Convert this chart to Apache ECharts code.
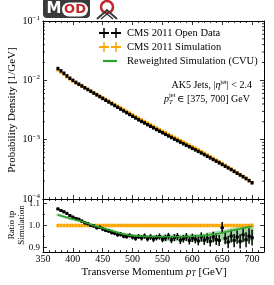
<!DOCTYPE html>
<html><head><meta charset="utf-8">
<script src="https://cdn.jsdelivr.net/npm/echarts@6/dist/echarts.min.js"></script>
<style>html,body{margin:0;padding:0;background:#fff}#c{width:274px;height:285px}</style>
</head><body><div id="c"></div>
<script>
// ---- data ----
const pt = [375,380,385,390,395,400,405,410,415,420,425,430,435,440,445,450,455,460,465,470,475,480,485,490,495,500,505,510,515,520,525,530,535,540,545,550,555,560,565,570,575,580,585,590,595,600,605,610,615,620,625,630,635,640,645,650,655,660,665,670,675,680,685,690,695,700];
const dataMain = [0.0158,0.01445,0.01318,0.01189,0.01084,0.0100,0.00923,0.00861,0.00804,0.00750,0.00700,0.00653,0.00610,0.00569,0.00531,0.00495,0.00462,0.00432,0.00403,0.00376,0.00351,0.00327,0.00305,0.00285,0.00266,0.00248,0.00232,0.00216,0.00203,0.00191,0.00179,0.00168,0.00158,0.00148,0.00139,0.00131,0.00123,0.001156,0.001089,0.001023,0.000964,0.000908,0.000855,0.000805,0.000759,0.000714,0.000673,0.000634,0.000596,0.00056,0.000525,0.000493,0.000462,0.000434,0.000407,0.000382,0.000357,0.000334,0.000313,0.000292,0.000272,0.000254,0.000237,0.000221,0.000204,0.000188];
const simMain = [0.01507,0.01383,0.01268,0.01149,0.01054,0.00979,0.00908,0.00853,0.00800,0.00750,0.00705,0.00661,0.00619,0.00580,0.00543,0.00509,0.00477,0.00447,0.00418,0.00392,0.00366,0.00343,0.00321,0.00300,0.00281,0.00262,0.00245,0.00229,0.00215,0.00202,0.00190,0.00178,0.00168,0.00157,0.00148,0.00139,0.00131,0.00123,0.001159,0.001089,0.001026,0.000966,0.000910,0.000857,0.000806,0.000759,0.000714,0.000671,0.000630,0.000590,0.000552,0.000517,0.000483,0.000453,0.000423,0.000395,0.000368,0.000344,0.000320,0.000298,0.000277,0.000258,0.000240,0.000223,0.000205,0.000188];
const ratioData = [1.075,1.068,1.062,1.055,1.045,1.038,1.032,1.028,1.02,1.012,1.008,1.0,0.998,0.99,0.992,0.984,0.978,0.975,0.968,0.965,0.958,0.96,0.952,0.95,0.955,0.948,0.942,0.95,0.944,0.952,0.94,0.948,0.938,0.945,0.95,0.938,0.944,0.952,0.935,0.945,0.95,0.933,0.94,0.948,0.932,0.944,0.938,0.93,0.948,0.933,0.942,0.928,0.948,0.936,0.932,0.99,0.942,0.925,0.952,0.932,0.948,0.928,0.958,0.936,0.952,0.945];
const ratioErr = [0.006,0.006,0.006,0.006,0.006,0.006,0.007,0.007,0.007,0.007,0.007,0.007,0.008,0.008,0.008,0.008,0.008,0.009,0.009,0.009,0.009,0.01,0.01,0.01,0.01,0.011,0.011,0.011,0.012,0.012,0.012,0.013,0.013,0.013,0.014,0.014,0.015,0.015,0.015,0.016,0.016,0.017,0.017,0.018,0.018,0.019,0.019,0.02,0.021,0.021,0.022,0.023,0.024,0.024,0.025,0.026,0.027,0.028,0.029,0.03,0.031,0.032,0.033,0.034,0.035,0.036];
const ratioRew = [1.048,1.044,1.04,1.036,1.032,1.029,1.025,1.022,1.018,1.014,1.01,1.005,1.0,0.996,0.992,0.988,0.984,0.98,0.976,0.972,0.968,0.964,0.961,0.958,0.956,0.954,0.953,0.952,0.951,0.951,0.95,0.95,0.95,0.95,0.949,0.949,0.949,0.949,0.949,0.949,0.949,0.949,0.949,0.95,0.95,0.951,0.951,0.952,0.953,0.954,0.956,0.958,0.96,0.962,0.964,0.967,0.97,0.973,0.976,0.979,0.982,0.985,0.988,0.991,0.994,0.997];
const rewErrUp = [0.006,0.006,0.006,0.006,0.006,0.006,0.006,0.006,0.006,0.006,0.006,0.006,0.006,0.006,0.006,0.007,0.007,0.007,0.007,0.007,0.007,0.007,0.007,0.007,0.007,0.007,0.007,0.007,0.007,0.007,0.007,0.007,0.007,0.007,0.007,0.01,0.01,0.01,0.01,0.01,0.01,0.01,0.01,0.01,0.01,0.01,0.01,0.01,0.01,0.01,0.012,0.012,0.012,0.012,0.012,0.012,0.012,0.012,0.012,0.012,0.012,0.012,0.012,0.012,0.012,0.012];
const rewErrDown = [0.006,0.006,0.006,0.006,0.006,0.006,0.006,0.006,0.006,0.006,0.006,0.006,0.006,0.006,0.006,0.008,0.008,0.008,0.008,0.008,0.008,0.008,0.008,0.008,0.008,0.012,0.012,0.012,0.012,0.012,0.012,0.012,0.012,0.012,0.012,0.02,0.02,0.02,0.02,0.02,0.02,0.02,0.02,0.02,0.02,0.025,0.025,0.025,0.025,0.025,0.025,0.035,0.035,0.035,0.035,0.035,0.05,0.05,0.05,0.05,0.05,0.065,0.065,0.065,0.065,0.065];
const logMinorTicks = [2e-4,3e-4,4e-4,5e-4,6e-4,7e-4,8e-4,9e-4,2e-3,3e-3,4e-3,5e-3,6e-3,7e-3,8e-3,9e-3,2e-2,3e-2,4e-2,5e-2,6e-2,7e-2,8e-2,9e-2];
const ratioTicks = [0.9, 1.0, 1.1];
const ratioMinorTicks = [0.95, 1.05];
const legendLabels = ['CMS 2011 Open Data', 'CMS 2011 Simulation', 'Reweighted Simulation (CVU)'];
const binHalf = 2.5;

// ---- styles ----
const F = "'Liberation Serif','DejaVu Serif',serif";
const BLACK = '#000000', ORANGE = '#ffa500', GREEN = '#2ca02c';

// tables for the library
const mainDataRows = pt.map((x, i) => [x, dataMain[i], dataMain[i] * (1 - ratioErr[i]), dataMain[i] * (1 + ratioErr[i])]);
const mainSimRows = pt.map((x, i) => [x, simMain[i], simMain[i], simMain[i]]);
const ratioDataRows = pt.map((x, i) => [x, ratioData[i], ratioData[i] - ratioErr[i], ratioData[i] + ratioErr[i]]);
const ratioSimRows = pt.map((x, i) => [x, simMain[i] / simMain[i], 0.996, 1.004]);
const bandRows = pt.map((x, i) => [x, ratioRew[i] - rewErrDown[i], ratioRew[i] + rewErrUp[i]]);
const rewRows = pt.map((x, i) => [x, ratioRew[i]]);

function errBars(color, hLW, vLW, marker) {
  return function (params, api) {
    const x = api.value(0), y = api.value(1), lo = api.value(2), hi = api.value(3);
    const a = api.coord([x - binHalf, y]), b = api.coord([x + binHalf, y]);
    const c = api.coord([x, lo]), d = api.coord([x, hi]);
    const ch = [
      {type: 'line', shape: {x1: a[0], y1: a[1], x2: b[0], y2: b[1]}, style: {stroke: color, lineWidth: hLW}},
      {type: 'line', shape: {x1: c[0], y1: c[1], x2: d[0], y2: d[1]}, style: {stroke: color, lineWidth: vLW}}
    ];
    if (marker) {
      const m = api.coord([x, y]);
      ch.push({type: 'rect', shape: {x: m[0] - marker / 2, y: m[1] - marker / 2, width: marker, height: marker}, style: {fill: color}});
    }
    return {type: 'group', children: ch};
  };
}
function bandRender(params, api) {
  const x = api.value(0), lo = api.value(1), hi = api.value(2);
  const a = api.coord([x - binHalf, hi]), b = api.coord([x + binHalf, lo]);
  return {type: 'rect', shape: {x: a[0], y: a[1], width: b[0] - a[0], height: b[1] - a[1]}, style: {fill: 'rgba(44,160,44,0.45)'}};
}
function minorTickRender(len) {
  return function (params, api) {
    const cs = params.coordSys;
    const y = api.coord([500, api.value(0)])[1];
    return {type: 'group', children: [
      {type: 'line', shape: {x1: cs.x, y1: y, x2: cs.x + len, y2: y}, style: {stroke: BLACK, lineWidth: 0.8}},
      {type: 'line', shape: {x1: cs.x + cs.width, y1: y, x2: cs.x + cs.width - len, y2: y}, style: {stroke: BLACK, lineWidth: 0.8}}
    ]};
  };
}

const axLine = {show: true, lineStyle: {color: BLACK, width: 1}};
function xAx(grid, pos, labels) {
  return {
    type: 'value', gridIndex: grid, position: pos, min: 350, max: 720, interval: 50,
    axisLine: axLine, splitLine: {show: false},
    axisTick: {show: true, inside: true, length: 4, lineStyle: {color: BLACK, width: 0.8}},
    minorTick: {show: true, splitNumber: 5, length: 2, lineStyle: {color: BLACK, width: 0.8}},
    axisLabel: labels ? {show: true, fontFamily: F, fontSize: 10, color: BLACK, margin: 2} : {show: false}
  };
}
function yLog(pos, labels) {
  return {
    type: 'log', logBase: 10, gridIndex: 0, position: pos, min: 1e-4, max: 1e-1,
    axisLine: axLine, splitLine: {show: false},
    axisTick: {show: true, inside: true, length: 4, lineStyle: {color: BLACK, width: 0.8}},
    minorTick: {show: false},
    axisLabel: labels ? {
      show: true, margin: 3,
      formatter: v => { const e = Math.round(Math.log10(v)); return '{b|10}{s|\u2212' + (-e) + '}'; },
      rich: {b: {fontFamily: F, fontSize: 10, color: BLACK}, s: {fontFamily: F, fontSize: 7, color: BLACK, padding: [0, 0, 6, 0]}}
    } : {show: false}
  };
}
function yRatio(pos, labels) {
  return {
    type: 'value', gridIndex: 1, position: pos, min: 0.88, max: 1.12,
    axisLine: axLine, splitLine: {show: false},
    axisTick: {show: true, inside: true, length: 4, customValues: ratioTicks, lineStyle: {color: BLACK, width: 0.8}},
    axisLabel: labels ? {show: true, customValues: ratioTicks, formatter: v => v.toFixed(1), fontFamily: F, fontSize: 9, color: BLACK, margin: 3} : {show: false}
  };
}

const chart = echarts.init(document.getElementById('c'), null, {renderer: 'canvas'});
const option = {
  animation: false,
  backgroundColor: '#fff',
  grid: [
    {left: 43, top: 21, width: 221, height: 178},
    {left: 43, top: 199, width: 221, height: 53}
  ],
  xAxis: [xAx(0, 'bottom', false), xAx(0, 'top', false), xAx(1, 'bottom', true), xAx(1, 'top', false)],
  yAxis: [yLog('left', true), yLog('right', false), yRatio('left', true), yRatio('right', false)],
  series: [
    {type: 'custom', xAxisIndex: 0, yAxisIndex: 0, data: mainSimRows, renderItem: errBars(ORANGE, 3.5, 1.5, 0), z: 2},
    {type: 'custom', xAxisIndex: 0, yAxisIndex: 0, data: mainDataRows, renderItem: errBars(BLACK, 3.5, 2, 0), z: 3},
    {type: 'custom', xAxisIndex: 0, yAxisIndex: 0, data: logMinorTicks.map(v => [v]), renderItem: minorTickRender(2), z: 5},
    {type: 'custom', xAxisIndex: 2, yAxisIndex: 2, data: bandRows, renderItem: bandRender, z: 1},
    {type: 'custom', xAxisIndex: 2, yAxisIndex: 2, data: ratioSimRows, renderItem: errBars(ORANGE, 3.5, 1, 0), z: 2},
    {type: 'custom', xAxisIndex: 2, yAxisIndex: 2, data: ratioDataRows, renderItem: errBars(BLACK, 1.5, 1.5, 3), z: 3},
    {type: 'line', xAxisIndex: 2, yAxisIndex: 2, data: rewRows, showSymbol: false, lineStyle: {color: GREEN, width: 1.6}, z: 4},
    {type: 'custom', xAxisIndex: 2, yAxisIndex: 2, data: ratioMinorTicks.map(v => [v]), renderItem: minorTickRender(2), z: 5}
  ],
  graphic: [
    // MOD logo
    {type: 'rect', shape: {x: 43, y: -4, width: 47, height: 22, r: 4}, style: {fill: '#3a3a3a'}},
    {type: 'text', x: 54, y: 9.5, style: {text: 'M', fontFamily: "'DejaVu Sans',sans-serif", fontWeight: 'bold', fontSize: 15, fill: '#fff', align: 'center', verticalAlign: 'middle'}},
    {type: 'rect', shape: {x: 62, y: 2.5, width: 26, height: 14, r: 7}, style: {fill: '#fff'}},
    {type: 'text', x: 75, y: 10, style: {text: 'OD', fontFamily: "'DejaVu Sans',sans-serif", fontWeight: 'bold', fontSize: 13, fill: '#c0282d', align: 'center', verticalAlign: 'middle'}},
    {type: 'circle', shape: {cx: 107, cy: 7, r: 6}, style: {fill: 'none', stroke: '#c0282d', lineWidth: 2.5}},
    {type: 'polyline', shape: {points: [[97, 19], [107, 10], [117, 19]]}, style: {fill: 'none', stroke: '#3a3a3a', lineWidth: 2}},
    {type: 'polyline', shape: {points: [[101, 19], [107, 14], [113, 19]]}, style: {fill: 'none', stroke: '#3a3a3a', lineWidth: 1.5}},
    // legend
    {type: 'line', shape: {x1: 99, y1: 33, x2: 109, y2: 33}, style: {stroke: BLACK, lineWidth: 2}},
    {type: 'line', shape: {x1: 104, y1: 28, x2: 104, y2: 38}, style: {stroke: BLACK, lineWidth: 1.5}},
    {type: 'line', shape: {x1: 111, y1: 33, x2: 121, y2: 33}, style: {stroke: BLACK, lineWidth: 2}},
    {type: 'line', shape: {x1: 116, y1: 28, x2: 116, y2: 38}, style: {stroke: BLACK, lineWidth: 1.5}},
    {type: 'line', shape: {x1: 99, y1: 47, x2: 109, y2: 47}, style: {stroke: ORANGE, lineWidth: 2}},
    {type: 'line', shape: {x1: 104, y1: 42, x2: 104, y2: 52}, style: {stroke: ORANGE, lineWidth: 1.5}},
    {type: 'line', shape: {x1: 111, y1: 47, x2: 121, y2: 47}, style: {stroke: ORANGE, lineWidth: 2}},
    {type: 'line', shape: {x1: 116, y1: 42, x2: 116, y2: 52}, style: {stroke: ORANGE, lineWidth: 1.5}},
    {type: 'line', shape: {x1: 103, y1: 61, x2: 117, y2: 61}, style: {stroke: GREEN, lineWidth: 2.2}},
    {type: 'text', x: 127, y: 33, style: {text: legendLabels[0], fontFamily: F, fontSize: 10.5, fill: BLACK, verticalAlign: 'middle'}},
    {type: 'text', x: 127, y: 47, style: {text: legendLabels[1], fontFamily: F, fontSize: 10.5, fill: BLACK, verticalAlign: 'middle'}},
    {type: 'text', x: 127, y: 61, style: {text: legendLabels[2], fontFamily: F, fontSize: 10.5, fill: BLACK, verticalAlign: 'middle'}},
    // annotation
    {type: 'text', x: 252, y: 85, style: {
      text: '{t|AK5 Jets, |}{i|\u03b7}{s|jet}{t|| < 2.4}', align: 'right', verticalAlign: 'middle',
      rich: {t: {fontFamily: F, fontSize: 10, fill: BLACK}, i: {fontFamily: F, fontStyle: 'italic', fontSize: 10, fill: BLACK}, s: {fontFamily: F, fontSize: 6.5, fill: BLACK, padding: [0, 0, 6, 0]}}
    }},
    {type: 'text', x: 164, y: 99, style: {text: 'p', fontFamily: F, fontStyle: 'italic', fontSize: 10, fill: BLACK, verticalAlign: 'middle'}},
    {type: 'text', x: 169, y: 95, style: {text: 'jet', fontFamily: F, fontSize: 6.5, fill: BLACK, verticalAlign: 'middle'}},
    {type: 'text', x: 169, y: 102, style: {text: 'T', fontFamily: F, fontStyle: 'italic', fontSize: 6.5, fill: BLACK, verticalAlign: 'middle'}},
    {type: 'text', x: 250, y: 99, style: {text: '\u2208 [375, 700] GeV', fontFamily: F, fontSize: 10, fill: BLACK, align: 'right', verticalAlign: 'middle'}},
    // axis titles
    {type: 'text', x: 12, y: 110, rotation: Math.PI / 2, style: {text: 'Probability Density [1/GeV]', fontFamily: F, fontSize: 11, fill: BLACK, align: 'center', verticalAlign: 'middle'}},
    {type: 'text', x: 11.5, y: 225, rotation: Math.PI / 2, style: {text: 'Ratio tp', fontFamily: F, fontSize: 9, fill: BLACK, align: 'center', verticalAlign: 'middle'}},
    {type: 'text', x: 22, y: 225, rotation: Math.PI / 2, style: {text: 'Simulation', fontFamily: F, fontSize: 9, fill: BLACK, align: 'center', verticalAlign: 'middle'}},
    {type: 'text', x: 154, y: 272, style: {
      text: '{t|Transverse Momentum }{i|p}{b|T}{t| [GeV]}', align: 'center', verticalAlign: 'middle',
      rich: {t: {fontFamily: F, fontSize: 11, fill: BLACK}, i: {fontFamily: F, fontStyle: 'italic', fontSize: 11, fill: BLACK}, b: {fontFamily: F, fontStyle: 'italic', fontSize: 7.5, fill: BLACK, padding: [5, 0, 0, 0]}}
    }}
  ]
};
chart.setOption(option);
</script>
</body></html>
